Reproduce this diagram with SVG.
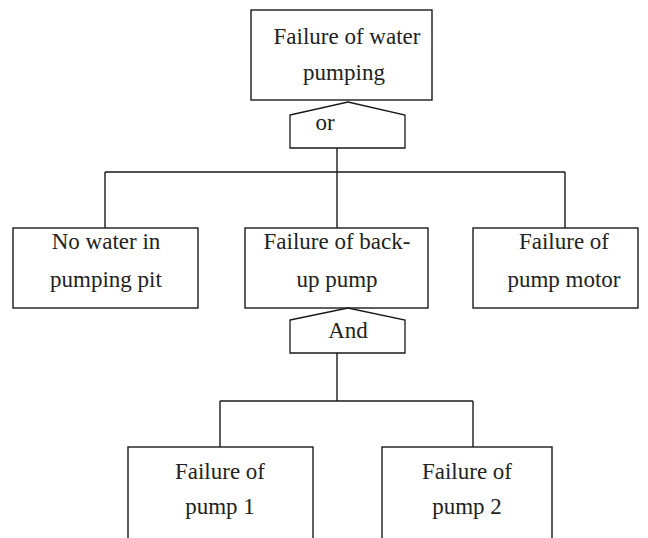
<svg xmlns="http://www.w3.org/2000/svg" width="648" height="538" viewBox="0 0 648 538">
  <style>
    .box { fill: #fff; stroke: #1a1a1a; stroke-width: 1.4; }
    .gate { fill: #fff; stroke: #1a1a1a; stroke-width: 1.3; }
    .wire { fill: none; stroke: #1a1a1a; stroke-width: 1.4; }
    .lbl { font-family: Liberation Serif, Times New Roman, Times, serif; font-size: 23px; fill: #222; text-anchor: middle; }
  </style>
  <rect width="648" height="538" fill="#fff"/>

  <g id="connectors">
    <!-- OR gate to first level -->
    <path class="wire" d="M337 148 V172 M105 172 H565 M105 172 V228 M337 172 V228 M565 172 V228"/>
    <!-- AND gate to pumps -->
    <path class="wire" d="M337 353 V401 M220 401 H473 M220 401 V447 M473 401 V447"/>
  </g>

  <g id="top-event">
    <rect class="box" x="251" y="10" width="181" height="90"/>
    <text class="lbl" x="347" y="44">Failure of water</text>
    <text class="lbl" x="344" y="80">pumping</text>
  </g>

  <g id="or-gate">
    <polygon class="gate" points="290,115 348,102 405,115 405,148 290,148"/>
    <text class="lbl" x="325" y="130">or</text>
  </g>

  <g id="no-water">
    <rect class="box" x="13" y="228" width="185" height="80"/>
    <text class="lbl" x="106" y="249">No water in</text>
    <text class="lbl" x="106" y="287">pumping pit</text>
  </g>

  <g id="backup-pump">
    <rect class="box" x="245" y="228" width="183" height="80"/>
    <text class="lbl" x="337" y="249">Failure of back-</text>
    <text class="lbl" x="337" y="287">up pump</text>
  </g>

  <g id="pump-motor">
    <rect class="box" x="473" y="228" width="165" height="80"/>
    <text class="lbl" x="564" y="249">Failure of</text>
    <text class="lbl" x="564" y="287">pump motor</text>
  </g>

  <g id="and-gate">
    <polygon class="gate" points="290,320 348,308 405,320 405,353 290,353"/>
    <text class="lbl" x="348" y="338">And</text>
  </g>

  <g id="pump-1">
    <rect class="box" x="128" y="447" width="185" height="100"/>
    <text class="lbl" x="220" y="479">Failure of</text>
    <text class="lbl" x="220" y="514">pump 1</text>
  </g>

  <g id="pump-2">
    <rect class="box" x="382" y="447" width="170" height="100"/>
    <text class="lbl" x="467" y="479">Failure of</text>
    <text class="lbl" x="467" y="514">pump 2</text>
  </g>
</svg>
